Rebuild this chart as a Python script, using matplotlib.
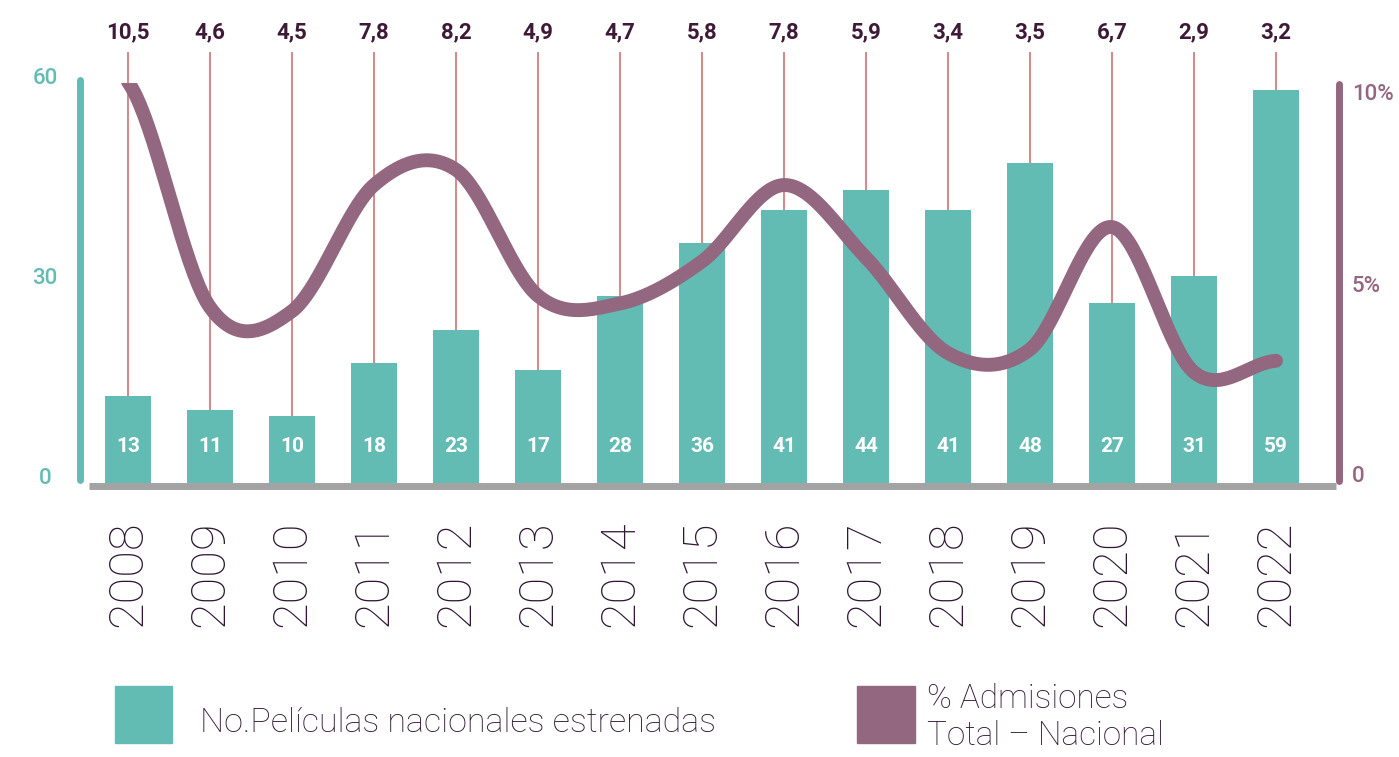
import numpy as np
import matplotlib
matplotlib.use("Agg")
import matplotlib.pyplot as plt
from matplotlib.patches import Rectangle
from matplotlib.transforms import offset_copy

plt.rcParams['font.family'] = ['Roboto', 'DejaVu Sans']

years = ["2008", "2009", "2010", "2011", "2012", "2013", "2014", "2015",
         "2016", "2017", "2018", "2019", "2020", "2021", "2022"]
films = [13, 11, 10, 18, 23, 17, 28, 36, 41, 44, 41, 48, 27, 31, 59]
admissions = [10.5, 4.6, 4.5, 7.8, 8.2, 4.9, 4.7, 5.8, 7.8, 5.9, 3.4, 3.5, 6.7, 2.9, 3.2]
admission_labels = ["10,5", "4,6", "4,5", "7,8", "8,2", "4,9", "4,7", "5,8",
                    "7,8", "5,9", "3,4", "3,5", "6,7", "2,9", "3,2"]
left_ticks = [0, 30, 60]
left_ticklabels = ["0", "30", "60"]
right_ticks = [0, 5, 10]
right_ticklabels = ["0", "5%", "10%"]
legend_labels = ["No.Películas nacionales estrenadas", "% Admisiones\nTotal – Nacional"]

TEAL = "#63bcb3"
PURPLE = "#946780"
PINK = "#d48c8c"
DARK = "#2e1533"
LABEL_DARK = "#3e1a38"
GRAY = "#a3a3a3"

W, H = 1399, 757
fig = plt.figure(figsize=(W / 100, H / 100), dpi=100)

# pixel mapping: x index i -> 128 + 82*i
def px_to_i(px):
    return (px - 128) / 82.0

ax_left_px, ax_right_px = 76, 1343
ax_top_px, ax_bot_px = 83, 483
ax = fig.add_axes([ax_left_px / W, (H - ax_bot_px) / H,
                   (ax_right_px - ax_left_px) / W, (ax_bot_px - ax_top_px) / H])
ax.set_xlim(px_to_i(ax_left_px), px_to_i(ax_right_px))
ax.set_ylim(0, 60)
for s in ax.spines.values():
    s.set_visible(False)

x = np.arange(len(years))
ax.bar(x, films, width=0.573, color=TEAL, zorder=2)
ax.vlines(x, films, 64.65, color=PINK, lw=1.5, zorder=1, clip_on=False)

for xi, lab in zip(x, admission_labels):
    ax.text(xi, 67.65, lab, ha='center', va='center', fontsize=16,
            fontweight='bold', color=LABEL_DARK, clip_on=False)
for xi, v in zip(x, films):
    ax.text(xi, 5.4, str(v), ha='center', va='center', fontsize=15,
            fontweight='bold', color='white', zorder=4)

# baseline
ax.plot([px_to_i(89), px_to_i(1336)], [-0.45, -0.45], color=GRAY, lw=5,
        solid_capstyle='butt', clip_on=False, zorder=3)
# left spine
ax.plot([px_to_i(79.5), px_to_i(79.5)], [0.4, 60.5], color=TEAL, lw=5,
        solid_capstyle='round', clip_on=False)

ax.set_xticks(x)
ax.set_xticklabels(years, rotation=90, fontsize=35, fontweight='light', color=DARK)
ax.tick_params(axis='x', length=0, pad=27)
ax.set_yticks([])

off = offset_copy(ax.transData, fig=fig, x=0, y=5, units='dots')
for v, lab in zip(left_ticks, left_ticklabels):
    ax.text(px_to_i(45), v, lab, ha='center', va='center', fontsize=16,
            fontweight='medium', color=TEAL, transform=off, clip_on=False)

ax2 = ax.twinx()
ax2.set_ylim(0, 400 / 38.2)
for s in ax2.spines.values():
    s.set_visible(False)
ax2.set_yticks([])

# smooth (Catmull-Rom) line through the data points
y = np.array(admissions, dtype=float)
pts_x, pts_y = [], []
n = len(y)
for i in range(n - 1):
    p0 = y[i - 1] if i > 0 else y[i]
    p1, p2 = y[i], y[i + 1]
    p3 = y[i + 2] if i + 2 < n else y[i + 1]
    t = np.linspace(0, 1, 40, endpoint=(i == n - 2))
    seg = 0.5 * ((2 * p1) + (-p0 + p2) * t + (2 * p0 - 5 * p1 + 4 * p2 - p3) * t ** 2
                 + (-p0 + 3 * p1 - 3 * p2 + p3) * t ** 3)
    pts_x.extend(i + t)
    pts_y.extend(seg)
ax2.plot(pts_x, pts_y, color=PURPLE, lw=10, solid_capstyle='round', zorder=5)

# right spine
ax2.plot([px_to_i(1339), px_to_i(1339)], [0.05, 10.45], color=PURPLE, lw=5,
         solid_capstyle='round', clip_on=False)
off2 = offset_copy(ax2.transData, fig=fig, x=0, y=6, units='dots')
for v, lab in zip(right_ticks, right_ticklabels):
    ax2.text(px_to_i(1352), v, lab, ha='left', va='center', fontsize=16,
             fontweight='medium', color=PURPLE, transform=off2, clip_on=False)

# legend
fig.patches.append(Rectangle((115 / W, (H - 743) / H), 57 / W, 57 / H,
                             transform=fig.transFigure, color=TEAL))
fig.patches.append(Rectangle((857 / W, (H - 743) / H), 58 / W, 57 / H,
                             transform=fig.transFigure, color=PURPLE))
fig.text(200 / W, (H - 732) / H, legend_labels[0], fontsize=24.5, fontweight='light',
         color=DARK, va='baseline', ha='left')
l1, l2 = legend_labels[1].split("\n")
fig.text(927 / W, (H - 708) / H, l1, fontsize=24, fontweight='light',
         color=DARK, va='baseline', ha='left')
fig.text(927 / W, (H - 745) / H, l2, fontsize=24, fontweight='light',
         color=DARK, va='baseline', ha='left')

fig.savefig("out.png", dpi=100)
